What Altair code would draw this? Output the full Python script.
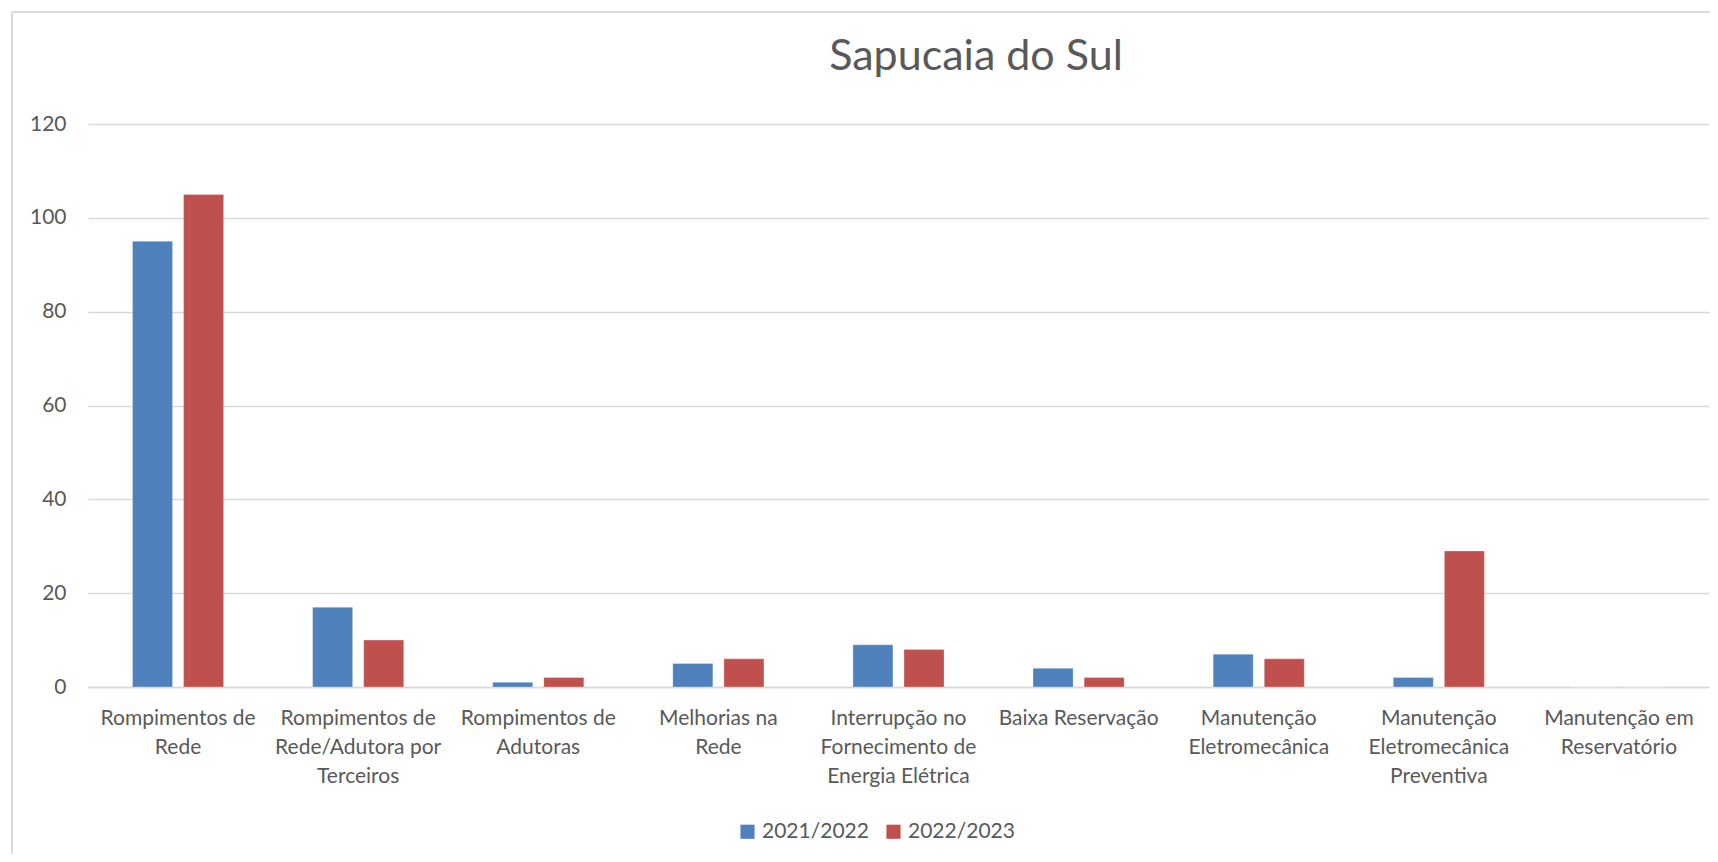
import json
import altair as alt
import pandas as pd

categories = [
    "Rompimentos de Rede",
    "Rompimentos de Rede/Adutora por Terceiros",
    "Rompimentos de Adutoras",
    "Melhorias na Rede",
    "Interrupção no Fornecimento de Energia Elétrica",
    "Baixa Reservação",
    "Manutenção Eletromecânica",
    "Manutenção Eletromecânica Preventiva",
    "Manutenção em Reservatório",
]
label_lines = [
    ["Rompimentos de", "Rede"],
    ["Rompimentos de", "Rede/Adutora por", "Terceiros"],
    ["Rompimentos de", "Adutoras"],
    ["Melhorias na", "Rede"],
    ["Interrupção no", "Fornecimento de", "Energia Elétrica"],
    ["Baixa Reservação"],
    ["Manutenção", "Eletromecânica"],
    ["Manutenção", "Eletromecânica", "Preventiva"],
    ["Manutenção em", "Reservatório"],
]
series = ["2021/2022", "2022/2023"]
values_2021 = [95, 17, 1, 5, 9, 4, 7, 2, 0]
values_2022 = [105, 10, 2, 6, 8, 2, 6, 29, 0]
colors = ["#4F81BD", "#C0504D"]
title_text = "Sapucaia do Sul"

rows = []
for c, a, b in zip(categories, values_2021, values_2022):
    rows.append({"cat": c, "serie": series[0], "valor": a})
    rows.append({"cat": c, "serie": series[1], "valor": b})
df = pd.DataFrame(rows)

label_map = json.dumps(dict(zip(categories, label_lines)), ensure_ascii=False)

FONT = "Lato"
TXT = "#595959"
W, H = 1621, 563
FS = 21
PB = 167

bars = alt.Chart(df).mark_bar(stroke="#FFFFFF", strokeWidth=0.6, strokeOpacity=0.5).encode(
    x=alt.X(
        "cat:N",
        sort=categories,
        title=None,
        scale=alt.Scale(paddingInner=0.494, paddingOuter=0.247),
        axis=alt.Axis(
            labelAngle=0,
            labelExpr=f"{label_map}[datum.value]",
            labelFont=FONT,
            labelFontSize=FS,
            labelColor=TXT,
            labelPadding=20,
            labelLineHeight=29,
            labelBaseline="top",
            ticks=False,
            domainColor="#D9D9D9",
            domainWidth=1.5,
            labelLimit=300,
        ),
    ),
    xOffset=alt.XOffset("serie:N", sort=series, scale=alt.Scale(paddingInner=0.216, paddingOuter=0)),
    y=alt.Y(
        "valor:Q",
        title=None,
        scale=alt.Scale(domain=[0, 120]),
        axis=alt.Axis(
            values=[0, 20, 40, 60, 80, 100, 120],
            labelFont=FONT,
            labelFontSize=FS,
            labelColor=TXT,
            labelPadding=22,
            ticks=False,
            domain=False,
            gridColor="#D9D9D9",
            gridWidth=1.3,
        ),
    ),
    color=alt.Color(
        "serie:N",
        sort=series,
        scale=alt.Scale(domain=series, range=colors),
        legend=alt.Legend(
            title=None,
            orient="none",
            direction="horizontal",
            legendX=649,
            legendY=697,
            symbolType="square",
            symbolSize=200,
            symbolStrokeWidth=0,
            labelFont=FONT,
            labelFontSize=FS,
            labelColor=TXT,
            columnPadding=14,
            labelOffset=4,
        ),
    ),
)

border_left = alt.Chart(df).mark_rule(color="#D9D9D9", strokeWidth=1.5).encode(
    x=alt.value(-76), y=alt.value(-112), y2=alt.value(H + PB)
)
border_top = alt.Chart(df).mark_rule(color="#D9D9D9", strokeWidth=1.5).encode(
    x=alt.value(-76), x2=alt.value(W + 20), y=alt.value(-112)
)
title = alt.Chart(pd.DataFrame({"t": [title_text]})).mark_text(
    font=FONT, fontSize=43, color=TXT, align="center", baseline="alphabetic"
).encode(text="t:N", x=alt.value(888), y=alt.value(-54))

chart = (
    alt.layer(border_left, border_top, bars, title)
    .properties(
        width=W,
        height=H,
        autosize=alt.AutoSizeParams(type="none"),
        padding={"left": 80, "top": 116, "right": 1, "bottom": PB},
    )
    .configure_view(stroke=None)
)

chart.save("out.html", embed_options={"renderer": "svg", "actions": False})
